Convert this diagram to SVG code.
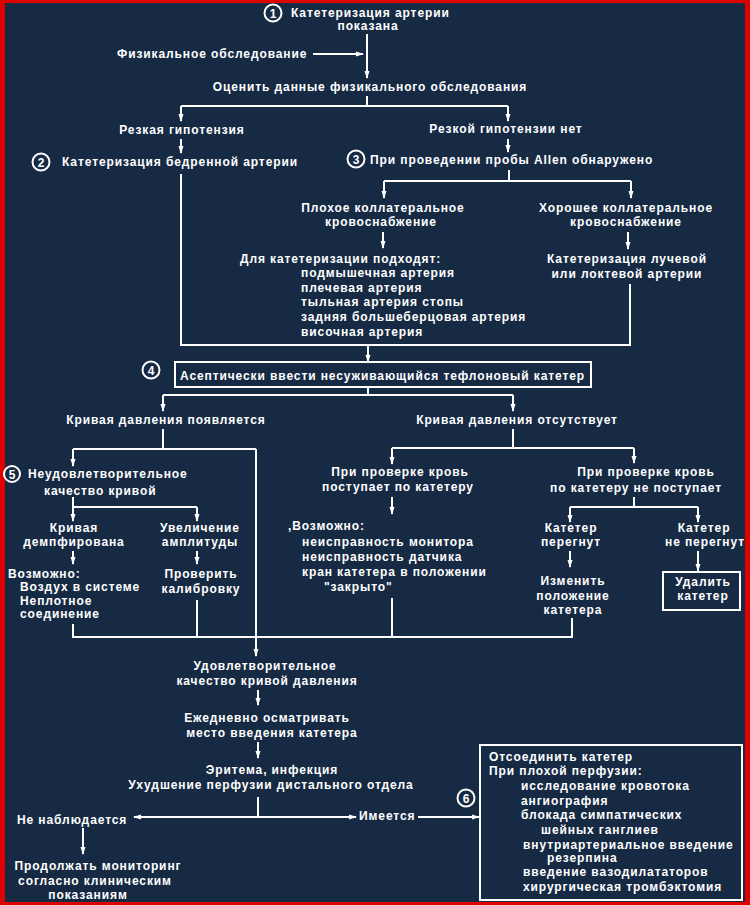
<svg xmlns="http://www.w3.org/2000/svg" width="750" height="905" viewBox="0 0 750 905">
<style>
text{font-family:"Liberation Sans",Arial,sans-serif;font-size:12px;font-weight:bold;fill:#ffffff;letter-spacing:0.9px}
.c{text-anchor:middle}
.ln{stroke:#ffffff;stroke-width:2;fill:none}
.ar{stroke:#ffffff;stroke-width:2;fill:none;marker-end:url(#ah)}
.bx{stroke:#ffffff;stroke-width:2;fill:none}
.num{stroke:#ffffff;stroke-width:2;fill:none}
.nt{text-anchor:middle;font-size:12px;letter-spacing:0}
</style>
<defs>
<marker id="ah" markerWidth="8" markerHeight="6" refX="7" refY="3" orient="auto" markerUnits="userSpaceOnUse">
<path d="M0,0.5 L8,3 L0,5.5 Z" fill="#ffffff"/>
</marker>
</defs>
<rect x="0" y="0" width="750" height="905" fill="#e00000"/>
<rect x="5" y="3" width="740" height="899" fill="#172a44"/>

<g id="connectors">
<path class="ar" d="M367 34 V78"/>
<path class="ar" d="M313 54 H363"/>
<path class="ln" d="M367 96 V106 M181 106 H508"/>
<path class="ar" d="M181 106 V121"/>
<path class="ar" d="M508 106 V121"/>
<path class="ar" d="M181 139 V153"/>
<path class="ar" d="M508 139 V152"/>
<path class="ln" d="M509 170 V181 M384 181 H631"/>
<path class="ar" d="M384 181 V198"/>
<path class="ar" d="M631 181 V198"/>
<path class="ar" d="M383 232 V248"/>
<path class="ar" d="M628 232 V249"/>
<path class="ln" d="M181 174 V345 H630 V284"/>
<path class="ar" d="M368 345 V362"/>
<path class="ln" d="M368 387 V395 M163 395 H513"/>
<path class="ar" d="M163 395 V411"/>
<path class="ar" d="M513 395 V411"/>
<path class="ln" d="M163 429 V449 M73 449 H256"/>
<path class="ar" d="M73 449 V466"/>
<path class="ar" d="M256 449 V656"/>
<path class="ln" d="M73 497 V507 M73 507 H197"/>
<path class="ar" d="M73 507 V521"/>
<path class="ar" d="M197 507 V521"/>
<path class="ar" d="M73 551 V564"/>
<path class="ar" d="M197 551 V564"/>
<path class="ln" d="M73 624 V637 H572 V618 M197 600 V637 M392 598 V637"/>
<path class="ln" d="M513 429 V448 M392 448 H634"/>
<path class="ar" d="M392 448 V464"/>
<path class="ar" d="M634 448 V463"/>
<path class="ar" d="M392 497 V514"/>
<path class="ln" d="M634 497 V507 M570 507 H698"/>
<path class="ar" d="M570 507 V522"/>
<path class="ar" d="M698 507 V522"/>
<path class="ar" d="M570 551 V567"/>
<path class="ar" d="M698 551 V571"/>
<path class="ar" d="M258 690 V705"/>
<path class="ar" d="M258 742 V758"/>
<path class="ln" d="M258 797 V817"/>
<path class="ar" d="M258 817 H134"/>
<path class="ar" d="M258 817 H356"/>
<path class="ar" d="M418 817 H479"/>
<path class="ar" d="M83 828 V854"/>
</g>

<g id="n1">
<circle class="num" cx="273" cy="13" r="8.5"/>
<text class="nt" x="273" y="17.5">1</text>
<text x="291" y="17">Катетеризация артерии</text>
<text class="c" x="368" y="30">показана</text>
</g>
<g id="phys"><text x="117" y="58">Физикальное обследование</text></g>
<g id="eval"><text class="c" x="370" y="91">Оценить данные физикального обследования</text></g>
<g id="hypo"><text class="c" x="182" y="134">Резкая гипотензия</text></g>
<g id="nohypo"><text class="c" x="506" y="133">Резкой гипотензии нет</text></g>
<g id="n2">
<circle class="num" cx="41" cy="162" r="8.5"/>
<text class="nt" x="41" y="166.5">2</text>
<text x="62" y="166">Катетеризация бедренной артерии</text>
</g>
<g id="n3">
<circle class="num" cx="356" cy="159" r="8.5"/>
<text class="nt" x="356" y="163.5">3</text>
<text x="370" y="164">При проведении пробы Allen обнаружено</text>
</g>
<g id="poor">
<text class="c" x="383" y="212">Плохое коллатеральное</text>
<text class="c" x="381" y="226">кровоснабжение</text>
</g>
<g id="good">
<text class="c" x="626" y="212">Хорошее коллатеральное</text>
<text class="c" x="626" y="226">кровоснабжение</text>
</g>
<g id="suit">
<text x="240" y="263">Для катетеризации подходят:</text>
<text x="301" y="277">подмышечная артерия</text>
<text x="301" y="292">плечевая артерия</text>
<text x="301" y="306">тыльная артерия стопы</text>
<text x="301" y="321">задняя большеберцовая артерия</text>
<text x="301" y="336">височная артерия</text>
</g>
<g id="radial">
<text class="c" x="627" y="263">Катетеризация лучевой</text>
<text class="c" x="627" y="278">или локтевой артерии</text>
</g>
<g id="n4">
<circle class="num" cx="151" cy="370" r="8.5"/>
<text class="nt" x="151" y="374.5">4</text>
<rect class="bx" x="175" y="362" width="416" height="25"/>
<text x="180" y="380">Асептически ввести несуживающийся тефлоновый катетер</text>
</g>
<g id="appears"><text class="c" x="166" y="424">Кривая давления появляется</text></g>
<g id="absent"><text class="c" x="517" y="424">Кривая давления отсутствует</text></g>
<g id="n5">
<circle class="num" cx="12" cy="474" r="8"/>
<text class="nt" x="12" y="478.5">5</text>
<text x="28" y="478">Неудовлетворительное</text>
<text x="44" y="495">качество кривой</text>
</g>
<g id="damped">
<text class="c" x="74" y="532">Кривая</text>
<text class="c" x="74" y="546">демпфирована</text>
</g>
<g id="ampl">
<text class="c" x="200" y="532">Увеличение</text>
<text class="c" x="200" y="546">амплитуды</text>
</g>
<g id="poss1">
<text x="8" y="578">Возможно:</text>
<text x="20" y="591">Воздух в системе</text>
<text x="20" y="605">Неплотное</text>
<text x="20" y="618">соединение</text>
</g>
<g id="calib">
<text class="c" x="201" y="578">Проверить</text>
<text class="c" x="201" y="593">калибровку</text>
</g>
<g id="flows">
<text class="c" x="400" y="476">При проверке кровь</text>
<text class="c" x="398" y="491">поступает по катетеру</text>
</g>
<g id="poss2">
<text x="288" y="530">,Возможно:</text>
<text x="302" y="546">неисправность монитора</text>
<text x="302" y="561">неисправность датчика</text>
<text x="302" y="576">кран катетера в положении</text>
<text x="324" y="591">"закрыто"</text>
</g>
<g id="noflow">
<text class="c" x="646" y="476">При проверке кровь</text>
<text class="c" x="636" y="492">по катетеру не поступает</text>
</g>
<g id="kinked">
<text class="c" x="571" y="532">Катетер</text>
<text class="c" x="571" y="546">перегнут</text>
</g>
<g id="notkinked">
<text class="c" x="704" y="532">Катетер</text>
<text class="c" x="705" y="546">не перегнут</text>
</g>
<g id="reposition">
<text class="c" x="573" y="585">Изменить</text>
<text class="c" x="573" y="600">положение</text>
<text class="c" x="573" y="614">катетера</text>
</g>
<g id="remove">
<rect class="bx" x="663" y="572" width="77" height="38"/>
<text class="c" x="703" y="586">Удалить</text>
<text class="c" x="703" y="600">катетер</text>
</g>
<g id="satisf">
<text class="c" x="265" y="670">Удовлетворительное</text>
<text class="c" x="267" y="685">качество кривой давления</text>
</g>
<g id="daily">
<text class="c" x="267" y="722">Ежедневно осматривать</text>
<text class="c" x="272" y="737">место введения катетера</text>
</g>
<g id="eryth">
<text class="c" x="272" y="774">Эритема, инфекция</text>
<text class="c" x="271" y="789">Ухудшение перфузии дистального отдела</text>
</g>
<g id="notobs"><text x="17" y="824">Не наблюдается</text></g>
<g id="present"><text x="359" y="820">Имеется</text></g>
<g id="continue">
<text class="c" x="98" y="870">Продолжать мониторинг</text>
<text class="c" x="95" y="885">согласно клиническим</text>
<text class="c" x="88" y="899">показаниям</text>
</g>
<g id="n6">
<circle class="num" cx="466" cy="798" r="8.5"/>
<text class="nt" x="466" y="802.5">6</text>
<rect class="bx" x="480" y="745" width="262" height="155"/>
<text x="489" y="761">Отсоединить катетер</text>
<text x="489" y="775">При плохой перфузии:</text>
<text x="521" y="790">исследование кровотока</text>
<text x="521" y="805">ангиография</text>
<text x="521" y="819">блокада симпатических</text>
<text x="541" y="834">шейных ганглиев</text>
<text x="523" y="849">внутриартериальное введение</text>
<text x="547" y="862">резерпина</text>
<text x="523" y="876">введение вазодилататоров</text>
<text x="523" y="891">хирургическая тромбэктомия</text>
</g>
</svg>
